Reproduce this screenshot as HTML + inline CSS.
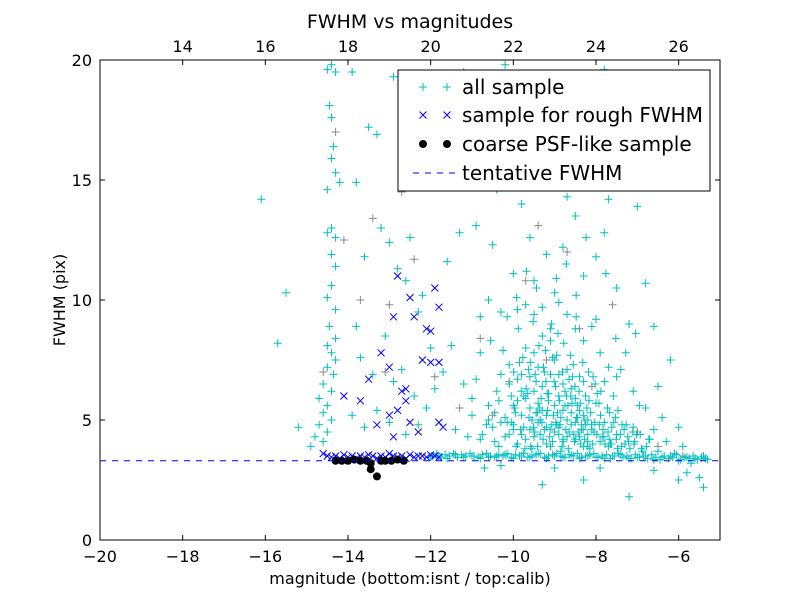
<!DOCTYPE html>
<html><head><meta charset="utf-8">
<style>
body{margin:0;background:#fff;font-family:"DejaVu Sans","Liberation Sans",sans-serif;}
svg text{font-family:"DejaVu Sans","Liberation Sans",sans-serif;}
</style></head>
<body>
<svg id="chart" width="800" height="600" viewBox="0 0 800 600">
<rect width="800" height="600" fill="#fff"/>
<g id="marks"></g>
<g id="axes"></g>
</svg>
<script>
// ---- data ----
const allX = [-14.5,-14.4,-14.3,-14.45,-14.4,-14.35,-14.4,-14.3,-14.5,-14.2,-14.4,-14.5,-14.3,-14.4,-14.3,-14.4,-14.5,-14.3,-14.45,-14.3,-14.5,-14.4,-14.3,-14.5,-14.35,-14.6,-14.4,-14.7,-14.5,-14.6,-14.4,-14.7,-14.5,-14.8,-14.6,-14.9,-15.2,-15.5,-15.7,-16.1,
-13.9,-13.8,-13.6,-13.5,-13.3,-13.2,-13.0,-12.8,-12.6,-12.5,-12.3,-12.2,-12.0,-13.8,-13.7,-13.4,-13.1,-12.9,-12.7,-12.4,-12.1,-13.9,-13.6,-13.3,-13.0,-12.6,-12.3,-11.9,-11.7,-11.5,-11.2,-11.0,-10.8,-11.4,-11.1,-10.6,-11.6,-11.3,-10.9,-10.5,-10.3,-11.8,-11.0,-10.7,-10.2,-11.2,-12.3,-12.9,
-10.4,-10.2,-10.1,-10.0,-9.9,-9.8,-9.7,-9.6,-9.5,-9.4,-9.3,-9.2,-9.1,-9.0,-8.9,-8.8,-8.7,-8.6,-8.5,-8.4,-8.3,-8.2,-8.1,-8.0,-7.9,-7.8,-7.7,-7.5,-7.3,-7.1,-6.9,-6.7,-6.5,-6.3,-6.1,-5.9,-5.7,-5.5,-5.4,-5.8,
-9.6,-9.4,-9.2,-9.0,-8.8,-8.6,-8.4,-8.2,-9.8,-10.0,-9.1,-8.9,-8.7,-8.5,-8.3,-8.9,-9.3,-9.5,-9.7,-9.9,
-9.0,-8.8,-8.5,-8.3,-8.0,-7.8,-7.5,-7.2,-7.0,-6.8,-6.6,-9.6,-9.3,-9.0,-8.7,-8.4,-8.1,-7.7,-7.6,-10.0,-9.8,-9.5,-8.2,-8.6,-9.2,-7.3,-7.8,-6.8,-9.9,-10.4,-10.6,-10.8,-7.4,-7.1,-6.8,-6.4,-6.2,-6.0,-10.7,-9.3,-8.3,-7.2,-6.6,-10.3,-9.0,-7.9,-6.0,
-9.45,-9.15,-8.95,-8.75,-8.55,-9.05,-8.65,-9.25,-8.45,-8.85,-9.35,-8.25,-8.05,-7.85,-7.65,-9.55,-9.75,-10.05,-8.15,-8.35,
-12.0,-11.8,-11.6,-11.4,-11.2,-11.0,-10.8,-10.6,-10.4,-10.2,-10.0,-9.8,-9.6,-9.4,-9.2,-9.0,-8.8,-8.6,-8.4,-8.2,-8.0,-7.8,-7.6,-7.4,-7.2,-7.0,-6.8,-6.6,-6.4,-6.2,-6.0,-5.8,-5.6,-5.4,-5.3,
-10.3,-10.1,-9.95,-9.85,-9.75,-9.65,-9.55,-9.45,-9.35,-9.25,-9.15,-9.05,-8.95,-8.85,-8.75,-8.65,-8.55,-8.45,-8.35,-8.25,
-10.2,-10.0,-9.9,-9.8,-9.7,-9.6,-9.5,-9.4,-9.3,-9.2,-9.1,-9.0,-8.9,-8.8,-8.7,-8.6,-8.5,-8.4,-8.3,-8.2,
-9.62,-9.48,-9.33,-9.18,-9.03,-8.88,-8.73,-8.58,-8.43,-8.28,-8.13,-7.98,-7.83,-7.68,-7.53,-7.38,-7.23,-7.08,-6.93,-6.78,
-9.58,-9.42,-9.28,-9.12,-8.98,-8.82,-8.68,-8.52,-8.38,-8.22,-8.08,-7.92,-7.78,-7.62,-7.48,-7.32,-7.18,-7.02,-6.88,-6.72,
-10.6,-10.45,-10.25,-10.05,-9.88,-9.72,-9.52,-9.38,-9.22,-9.08,-8.92,-8.78,-8.62,-8.48,-8.32,-8.18,-8.02,-7.88,-7.72,-7.58,
-11.0,-10.9,-10.75,-10.55,-10.35,-10.15,-9.92,-9.68,-9.44,-9.2,-8.96,-8.72,-8.48,-8.24,-8.0,-7.76,-7.52,-7.28,-7.04,-6.5,
-11.95,-11.85,-11.75,-11.65,-11.55,-11.45,-11.35,-11.25,-11.15,-11.05,-10.95,-10.85,-10.75,-10.65,-10.55,-10.45,-10.35,-10.25,-10.15,-10.05,-9.95,-9.85,-9.75,-9.65,-9.55,-9.45,-9.35,-9.25,-9.15,-9.05,-8.95,-8.85,-8.75,-8.65,-8.55,-8.45,-8.35,-8.25,-8.15,-8.05,-7.95,-7.85,-7.75,-7.65,-7.55,-7.45,-7.35,-7.25,-7.15,-7.05,-6.95,-6.85,-6.75,-6.65,-6.55,-6.45,-6.35,-6.25,-6.15,-6.05,-5.95,-5.85,-5.75,-5.65,-5.55,-5.45,-5.35];
const allY = [19.6,19.8,19.5,18.1,17.6,16.4,15.9,15.3,14.6,14.9,13.0,12.8,12.6,11.9,11.4,10.6,10.1,9.6,8.9,8.4,8.1,7.8,7.5,7.2,6.9,6.5,6.2,5.9,5.6,5.3,5.0,4.8,4.5,4.3,4.1,3.9,4.7,10.3,8.2,14.2,
19.5,14.9,11.8,17.2,16.9,13.0,12.4,11.3,10.8,12.6,9.5,10.2,8.0,8.9,7.6,6.9,8.5,6.6,7.1,6.0,5.5,5.2,4.7,5.4,4.9,4.4,4.8,6.3,7.0,8.1,6.5,5.9,7.8,4.6,4.3,5.0,11.6,12.8,13.1,12.3,9.5,16.2,17.5,18.6,19.8,19.5,18.4,19.3,
6.2,5.1,7.3,4.6,5.8,6.9,4.2,5.5,7.8,4.9,6.4,5.2,8.3,4.5,6.0,5.4,7.1,4.8,5.9,4.3,6.6,5.0,4.6,5.7,4.1,4.9,3.9,4.4,4.0,4.7,3.8,4.2,3.7,4.1,3.6,3.9,3.2,2.6,2.2,2.8,
6.8,7.2,4.0,5.6,4.2,6.3,5.4,4.1,4.4,5.6,3.9,4.7,5.0,4.2,3.9,6.9,5.4,4.3,5.9,4.0,
10.3,12.2,13.5,11.0,9.2,12.8,10.5,9.0,13.9,10.7,8.9,12.6,15.1,16.7,14.3,16.2,15.2,14.2,16.0,11.1,14.0,9.4,18.2,19.2,18.8,17.4,19.6,16.2,16.3,14.6,10.0,9.3,7.1,6.2,5.5,5.1,7.5,4.7,3.0,2.3,2.5,1.8,2.9,3.1,3.0,3.0,2.5,
5.3,6.1,4.8,5.6,4.4,7.6,6.7,4.6,5.1,3.7,5.0,4.8,4.5,4.3,4.0,3.8,6.0,4.9,3.8,4.6,
3.45,3.5,3.4,3.55,3.45,3.5,3.4,3.45,3.5,3.55,3.4,3.5,3.45,3.6,3.4,3.5,3.45,3.55,3.4,3.5,3.45,3.4,3.5,3.55,3.4,3.45,3.5,3.35,3.45,3.5,3.3,3.45,3.4,3.5,3.35,
4.9,6.5,5.3,7.4,4.7,6.1,5.0,6.6,4.4,7.0,5.8,4.1,7.7,5.1,6.2,4.5,7.3,5.6,4.8,6.0,
4.3,4.8,6.7,5.2,8.0,4.6,6.2,5.7,8.5,4.7,6.9,7.5,4.4,6.5,4.3,5.3,4.9,6.8,5.2,4.4,
5.1,4.5,5.9,6.1,5.2,5.8,4.6,5.7,4.5,4.2,5.3,4.4,4.6,4.2,5.1,3.9,4.3,4.0,4.4,3.9,
3.9,5.3,4.2,4.3,6.4,3.9,5.6,4.1,5.7,5.5,4.0,4.8,4.0,4.7,3.8,4.6,3.8,4.4,3.7,4.2,
5.6,4.1,7.9,6.0,8.8,3.8,9.1,8.1,7.9,9.0,8.6,8.2,7.7,9.3,7.4,7.0,6.5,6.2,5.5,6.0,
5.2,6.7,4.4,8.3,3.9,9.3,10.1,11.2,10.5,11.9,10.9,11.5,10.2,12.6,11.8,11.1,8.4,7.8,8.6,6.4,
3.5,3.6,3.45,3.55,3.5,3.6,3.45,3.55,3.5,3.6,3.5,3.45,3.55,3.6,3.5,3.45,3.55,3.5,3.6,3.45,3.55,3.5,3.6,3.45,3.5,3.55,3.6,3.45,3.5,3.55,3.6,3.5,3.45,3.55,3.5,3.6,3.45,3.5,3.55,3.6,3.45,3.5,3.55,3.4,3.5,3.6,3.45,3.5,3.4,3.55,3.45,3.5,3.4,3.55,3.45,3.35,3.5,3.4,3.45,3.55,3.35,3.45,3.4,3.5,3.35,3.45,3.4];
const clusterX = [-9.97,-9.83,-9.69,-9.51,-9.37,-9.21,-9.07,-8.93,-8.79,-8.61,-8.47,-8.31,-8.17,-8.03,-7.89,-7.71,-7.57,-7.41,-7.27,-7.11,
-9.99,-9.81,-9.63,-9.47,-9.31,-9.17,-9.01,-8.87,-8.71,-8.57,-8.41,-8.27,-8.11,-7.97,-7.81,-7.67,-7.51,-7.37,-7.21,-7.07,
-10.5,-10.35,-10.15,-9.93,-9.77,-9.59,-9.41,-9.27,-9.11,-8.97,-8.81,-8.67,-8.51,-8.37,-8.21,-8.07,-7.93,-7.79,-7.63,-7.47,
-10.8,-10.65,-10.45,-10.3,-10.1,-9.9,-9.7,-9.5,-9.3,-9.1,-8.9,-8.7,-8.5,-8.3,-8.1,-7.9,-7.7,-7.5,-6.95,-6.6];
const clusterY = [5.5,4.6,6.3,4.7,5.5,6.6,4.8,5.3,4.1,6.0,5.1,4.6,5.8,4.9,5.2,4.5,4.9,4.4,4.8,4.5,
7.0,6.2,7.1,6.9,4.9,5.4,6.6,4.8,6.0,6.8,6.2,5.0,4.8,6.1,4.3,5.3,4.2,4.8,4.1,4.1,
4.7,5.8,4.9,3.9,7.6,7.4,3.9,7.2,4.6,4.9,7.0,3.8,6.4,4.0,3.9,6.8,5.7,6.6,4.0,5.4,
4.2,4.8,5.3,6.9,4.4,9.6,9.8,10.8,9.7,8.8,9.9,9.4,8.8,8.3,8.9,7.8,7.2,6.8,5.6,4.6];
const grayX = [-14.3,-14.1,-13.7,-13.4,-13.1,-12.7,-12.4,-11.9,-11.3,-10.8,-10.1,-9.7,-9.2,-8.7,-8.1,-7.6,-7.0,-6.5,-5.9,-14.6,-13.0,-10.5,-9.4,-8.4];
const grayY = [17.0,12.5,10.0,13.4,7.0,14.5,11.7,6.8,5.5,8.4,6.6,10.8,7.5,12.0,6.4,9.8,4.5,3.9,3.5,7.0,9.8,5.2,13.1,8.8];
const roughX = [-14.6,-14.5,-14.4,-14.3,-14.2,-14.1,-14.0,-13.9,-13.8,-13.7,-13.6,-13.5,-13.4,-13.3,-13.2,-13.1,-13.0,-12.9,-12.8,-12.7,-12.6,-12.5,-12.4,-12.3,-12.2,-12.1,-12.0,-11.9,-11.8,
-14.1,-13.5,-13.2,-13.0,-12.9,-12.8,-12.5,-12.4,-12.1,-12.0,-11.9,-11.8,-12.0,-11.8,-12.2,-12.7,-12.6,-12.8,-13.0,-13.3,-12.5,-12.3,-11.8,-11.7,-12.9,-13.7,-12.6];
const roughY = [3.6,3.5,3.45,3.5,3.4,3.55,3.45,3.5,3.4,3.5,3.45,3.55,3.5,3.4,3.5,3.45,3.6,3.5,3.45,3.5,3.4,3.55,3.45,3.5,3.5,3.45,3.55,3.5,3.45,
6.0,6.7,7.8,7.2,9.3,11.0,10.1,9.3,8.8,8.7,10.5,9.7,7.4,7.4,7.5,6.2,5.8,5.4,5.2,4.8,4.9,4.5,4.9,4.7,4.3,5.8,6.3];
const psfX = [-14.3,-14.15,-14.0,-13.85,-13.7,-13.55,-13.45,-13.45,-13.3,-13.2,-13.1,-12.95,-12.8,-12.65];
const psfY = [3.3,3.3,3.3,3.35,3.3,3.3,3.2,2.95,2.65,3.3,3.3,3.3,3.35,3.3];
const tentativeFWHM = 3.3;
const xTicks = [-20,-18,-16,-14,-12,-10,-8,-6];
const topTicks = [14,16,18,20,22,24,26];
const yTicks = [0,5,10,15,20];

// ---- scales ----
const L=100,R=720,T=60,B=540;
const xs = v => L + (v+20)/15*(R-L);
const ys = v => B - v/20*(B-T);
const xTop = v => xs(v-32);
const NS="http://www.w3.org/2000/svg";
function mk(tag, attrs, parent){const e=document.createElementNS(NS,tag);for(const k in attrs)e.setAttribute(k,attrs[k]);parent.appendChild(e);return e;}
const marks=document.getElementById('marks');
const axes=document.getElementById('axes');
const clip=mk('clipPath',{id:'pc'},mk('defs',{},document.getElementById('chart')));
mk('rect',{x:L,y:T,width:R-L,height:B-T},clip);
marks.setAttribute('clip-path','url(#pc)');

function plus(x,y,c,p){return mk('path',{d:`M${x-4} ${y}H${x+4}M${x} ${y-4}V${y+4}`,stroke:c,'stroke-width':1,fill:'none'},p);}
function cross(x,y,c,p){return mk('path',{d:`M${x-3.5} ${y-3.5}L${x+3.5} ${y+3.5}M${x-3.5} ${y+3.5}L${x+3.5} ${y-3.5}`,stroke:c,'stroke-width':1,fill:'none'},p);}

for(let i=0;i<grayX.length;i++){const el=plus(xs(grayX[i]),ys(grayY[i]),'#8a8a8a',marks);

}
for(let i=0;i<allX.length;i++){const el=plus(xs(allX[i]),ys(allY[i]),'#00bfbf',marks);

}
for(let i=0;i<clusterX.length;i++){const el=plus(xs(clusterX[i]),ys(clusterY[i]),'#00bfbf',marks);

}
for(let i=0;i<roughX.length;i++){const el=cross(xs(roughX[i]),ys(roughY[i]),'#0000ff',marks);

}
for(let i=0;i<psfX.length;i++){const el=mk('circle',{cx:xs(psfX[i]),cy:ys(psfY[i]),r:4,fill:'#000'},marks);

}
const tl=mk('line',{x1:L,x2:R,y1:ys(tentativeFWHM),y2:ys(tentativeFWHM),stroke:'#0000ff','stroke-width':1,'stroke-dasharray':'6,6'},marks);



const fr=mk('rect',{x:L,y:T,width:R-L,height:B-T,fill:'none',stroke:'#000','stroke-width':1},axes);


const txt=(x,y,s,size,anchor,p)=>{const t=mk('text',{x:x,y:y,'font-size':size,'text-anchor':anchor,fill:'#000'},p);t.textContent=s;return t;};
xTicks.forEach(v=>{const x=xs(v);mk('path',{d:`M${x} ${B}v-5M${x} ${T}v5`,stroke:'#000'},axes);
const t=txt(x,B+22,v<0?'\u2212'+Math.abs(v):String(v),16,'middle',axes);

});
topTicks.forEach(v=>{const x=xTop(v);
const t=txt(x,T-8,String(v),16,'middle',axes);

});
yTicks.forEach(v=>{const y=ys(v);mk('path',{d:`M${L} ${y}h5M${R} ${y}h-5`,stroke:'#000'},axes);
const t=txt(L-8,y+6,String(v),16,'end',axes);

});
let t;
t=txt(410,28,'FWHM vs magnitudes',19,'middle',axes);


t=txt(410,584,'magnitude (bottom:isnt / top:calib)',16,'middle',axes);


t=mk('text',{x:0,y:0,'font-size':16,'text-anchor':'middle',transform:'translate(65,300) rotate(-90)'},axes);t.textContent='FWHM (pix)';



const lg=mk('g',{},axes);


mk('rect',{x:398,y:70,width:312,height:121,fill:'#fff',stroke:'#000'},lg);
const rows=[87,115,144,173];
plus(423,rows[0],'#00bfbf',lg);plus(447,rows[0],'#00bfbf',lg);
cross(423,rows[1],'#0000ff',lg);cross(447,rows[1],'#0000ff',lg);
mk('circle',{cx:423,cy:rows[2],r:4,fill:'#000'},lg);mk('circle',{cx:447,cy:rows[2],r:4,fill:'#000'},lg);
mk('line',{x1:413,x2:457,y1:rows[3],y2:rows[3],stroke:'#0000ff','stroke-dasharray':'6,6'},lg);
['all sample','sample for rough FWHM','coarse PSF-like sample','tentative FWHM'].forEach((s,i)=>{
const e=txt(462,rows[i]+7,s,20,'start',lg);

});
</script>
</body></html>
